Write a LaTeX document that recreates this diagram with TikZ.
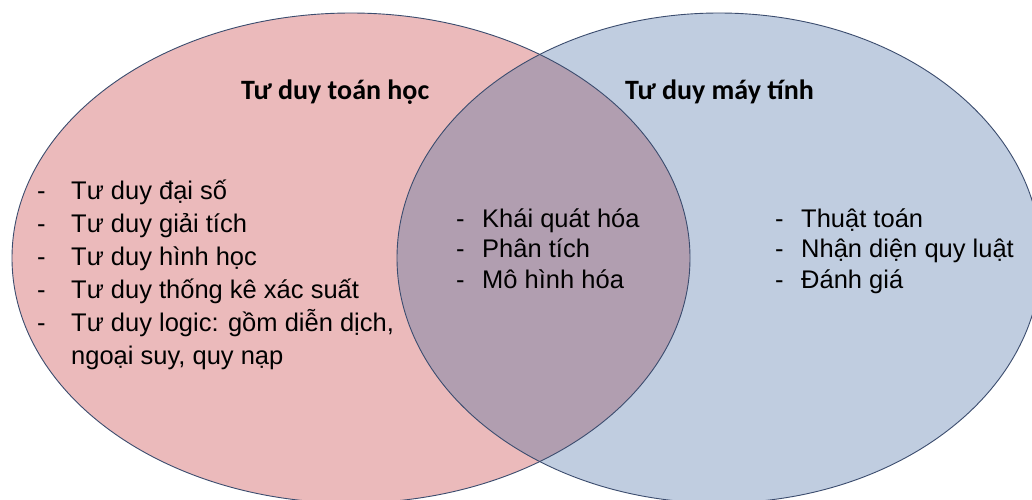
\documentclass[tikz,border=0pt]{standalone}
\usepackage{fontspec}
\setmainfont{Liberation Sans}
\newfontfamily\headfont{Carlito}
\usepackage{array}

\definecolor{mathfill}{HTML}{EBBABB}
\definecolor{compfill}{HTML}{C0CDE0}
\definecolor{bothfill}{HTML}{B19EB0}
\definecolor{rim}{HTML}{3B4C6E}

\newcommand{\rowsA}[1]{\begin{tabular}[t]{@{}p{34pt}@{}l@{}}#1\end{tabular}}
\newcommand{\rowsB}[1]{\begin{tabular}[t]{@{}p{26pt}@{}l@{}}#1\end{tabular}}

\begin{document}
\begin{tikzpicture}[x=1pt,y=-1pt,
    head/.style={inner sep=0pt,anchor=base west,font=\headfont\bfseries\fontsize{28}{32}\selectfont},
    list/.style={inner sep=0pt,anchor=base west,font=\fontsize{25.5}{33}\selectfont},
    tightlist/.style={list,font=\fontsize{25.5}{30.5}\selectfont}]
  \clip (0,0) rectangle (1032,499);
  \fill[white] (0,0) rectangle (1032,499);

  % the two sets and their overlap
  \fill[mathfill] (351,258) ellipse [x radius=339, y radius=245];
  \fill[compfill] (719,258) ellipse [x radius=322, y radius=245];
  \begin{scope}
    \clip (351,258) ellipse [x radius=339, y radius=245];
    \fill[bothfill] (719,258) ellipse [x radius=322, y radius=245];
  \end{scope}
  \draw[rim,line width=0.9pt] (351,258) ellipse [x radius=339, y radius=245];
  \draw[rim,line width=0.9pt] (719,258) ellipse [x radius=322, y radius=245];

  % headings
  \node[head] (mathhead) at (241,99) {Tư duy toán học};
  \node[head] (comphead) at (625,99) {Tư duy máy tính};

  % lists
  \node[list] (mathlist) at (37,199) {\rowsA{
    - & Tư duy đại số\\
    - & Tư duy giải tích\\
    - & Tư duy hình học\\
    - & Tư duy thống kê xác suất\\
    - & Tư duy logic: gồm diễn dịch,\\
      & ngoại suy, quy nạp}};
  \node[tightlist] (bothlist) at (456,227) {\rowsB{
    - & Khái quát hóa\\
    - & Phân tích\\
    - & Mô hình hóa}};
  \node[tightlist] (complist) at (775,227) {\rowsB{
    - & Thuật toán\\
    - & Nhận diện quy luật\\
    - & Đánh giá}};
\end{tikzpicture}
\end{document}
